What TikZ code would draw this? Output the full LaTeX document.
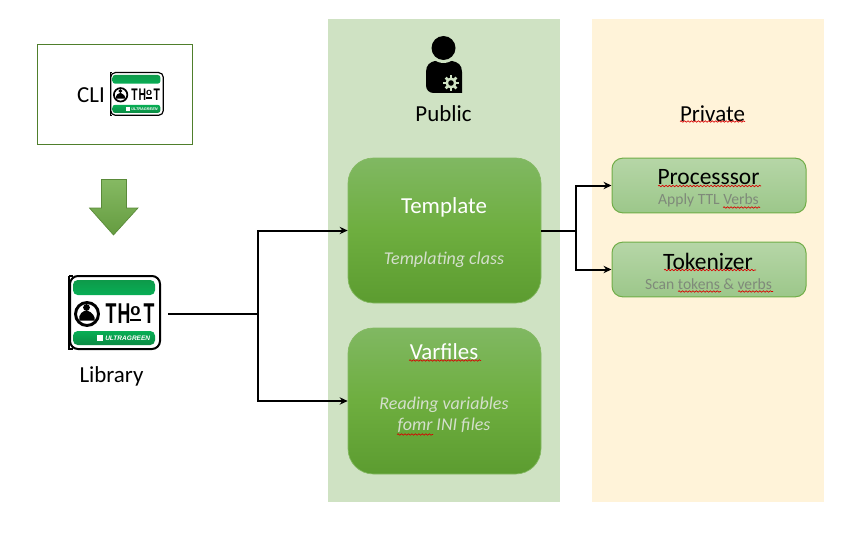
\documentclass[tikz,border=0pt]{standalone}
\usepackage{fontspec}
\setmainfont{Carlito}
\newfontfamily\logofont{Liberation Sans}
\usetikzlibrary{arrows.meta,decorations.pathmorphing,shadings}
\definecolor{pubbg}{HTML}{CFE2C3}
\definecolor{privbg}{HTML}{FFF3D9}
\definecolor{gedge}{HTML}{70AD47}
\definecolor{gtop}{HTML}{80B862}
\definecolor{gmid}{HTML}{6EAE3F}
\definecolor{gbot}{HTML}{5C9C30}
\definecolor{ltop}{HTML}{B6D6A7}
\definecolor{lbot}{HTML}{9CC78A}
\definecolor{lgreen}{HTML}{08AE55}
\definecolor{ltopg}{HTML}{0E9A4A}
\definecolor{dgreen}{HTML}{0B8A43}
\definecolor{cliedge}{HTML}{4F7F2C}
\definecolor{subgrey}{HTML}{7F8A7A}
\definecolor{ital}{HTML}{D4DFCC}
\tikzset{
  x=0.75pt,y=-0.75pt,
  panel/.style={draw=none,inner sep=0pt},
  bigbox/.style={rounded corners=19pt,draw=gedge!85!white,line width=.5pt,top color=gtop,bottom color=gbot,middle color=gmid,minimum width=144.75pt,inner sep=0pt},
  smallbox/.style={rounded corners=8pt,draw=gedge,line width=.75pt,top color=ltop,bottom color=lbot,minimum width=145.5pt,minimum height=41pt,inner sep=0pt},
  conn/.style={draw=black,line width=1.5pt},
  arr/.style={conn,-{Stealth[length=6pt,width=5.5pt]}},
  lbl/.style={inner sep=0pt,font=\fontsize{17.2pt}{20pt}\selectfont},
  titlelbl/.style={inner sep=0pt,font=\fontsize{17.6pt}{20pt}\selectfont},
  whitehead/.style={lbl,text=white},
  ilbl/.style={inner sep=0pt,align=center,text=ital,font=\fontsize{13.5pt}{15.8pt}\selectfont\itshape},
  sublbl/.style={inner sep=0pt,text=subgrey,font=\fontsize{11.7pt}{14pt}\selectfont},
  squig/.style={draw=red!85!black,line width=.5pt,decorate,decoration={snake,amplitude=.55pt,segment length=2.6pt}},
  logoletter/.style={inner sep=0pt,xscale=.62,font=\logofont\bfseries\fontsize{21.5pt}{22pt}\selectfont},
}
% #1 x, #2 y, #3 scale
\newcommand{\thotlogo}[3]{%
\begin{scope}[shift={(#1,#2)},scale=#3,transform shape]
  \pgfmathsetmacro{\lwk}{#3}
  \draw[line width=\lwk*1.5pt,fill=white,rounded corners=6pt*\lwk] (2,1) rectangle (92,74);
  \draw[line width=\lwk*1.2pt] (1,0.5) -- (1,74.5);
  \draw[line width=\lwk*1.2pt] (1,1) -- (5,1) (1,74) -- (5,74);
  \path[rounded corners=3.5pt*\lwk,top color=ltopg,bottom color=lgreen,draw=none] (5,5) rectangle (87,20);
  \path[rounded corners=3.5pt*\lwk,top color=lgreen,bottom color=dgreen,draw=none] (5,56) rectangle (87,70);
  \draw[line width=\lwk*2.2pt,fill=white] (19,39) circle [radius=11.5];
  \fill (18.5,32.5) circle [radius=3.4];
  \fill (11.5,45.5) .. controls (10,39) and (15,35.5) .. (19,35.5) .. controls (24,37) and (28,42) .. (26.5,45.5) -- cycle;
  \node[logoletter] at (43,38.5) {T};
  \node[logoletter] at (56,38.5) {H};
  \node[inner sep=0pt,font=\logofont\bfseries\fontsize{12.5pt}{14pt}\selectfont] at (67.5,36.5) {o};
  \fill (62,43.5) rectangle (73,45.5);
  \node[logoletter] at (81,38.5) {T};
  \fill[white] (29,60) rectangle (35,66);
  \node[inner sep=0pt,anchor=west,text=white,font=\logofont\bfseries\itshape\fontsize{4.9pt}{5pt}\selectfont] at (37,63) {ULTRAGREEN};
\end{scope}}
\begin{document}
\begin{tikzpicture}
\useasboundingbox (0,0) rectangle (860,535);
% panels
\node[panel,fill=pubbg,minimum width=174pt,minimum height=362.25pt] (public) at (444,260.5) {};
\node[panel,fill=privbg,minimum width=174pt,minimum height=362.25pt] (private) at (708,260.5) {};
% CLI box
\node[draw=cliedge,line width=.75pt,fill=white,minimum width=116.5pt,minimum height=75.5pt,inner sep=0pt] (clibox) at (115,94.5) {};
\node[lbl] (clitext) at (91,95) {CLI};
\thotlogo{109.5}{72}{0.585}
% big down arrow
\path[draw=gedge!80!black,line width=.5pt,top color=gedge!85!white,bottom color=gedge!90!black]
  (101.5,179.5) -- (126.5,179.5) -- (126.5,208) -- (138,208) -- (113.5,235) -- (89.5,208) -- (101.5,208) -- cycle;
% library
\thotlogo{68}{275}{1}
\node[lbl] (libtext) at (111.5,376.5) {Library};
\coordinate (libout) at (168,313.5);
\coordinate (jleft) at (257.5,313.5);
% person icon
\fill (426,72) .. controls (426,65) and (430,62) .. (435,61) -- (452,61) .. controls (458,62) and (462,65) .. (462,72) -- (462,93) -- (434,93) .. controls (429,93) and (426,90) .. (426,85) -- cycle;
\fill[pubbg] (443.5,48) circle [radius=15];
\fill (443.5,48) circle [radius=12];
\foreach \a in {0,45,...,315} {\draw[pubbg,line width=2pt] (451,83) -- ++(\a:7.6);}
\fill[pubbg] (451,83) circle [radius=5.6];
\fill (451,83) circle [radius=2.8];
\node[lbl] (pubtext) at (443.5,114) {Public};
\node[lbl] (privtext) at (712.5,114) {Private};
\draw[squig] (680,121.5) -- (745,121.5);
% main boxes
\node[bigbox,minimum height=108.75pt] (tpl) at (444.5,230.5) {};
\node[bigbox,minimum height=109.5pt] (var) at (444.5,401) {};
\node[whitehead] (tpltitle) at (444,207) {Template};
\node[ilbl] (tplsub) at (444,260) {Templating class};
\node[whitehead] (vartitle) at (444,352) {Varfiles};
\draw[squig] (409,360.5) -- (481,360.5);
\node[ilbl] (varsub) at (444,415) {Reading variables\\fomr INI files};
\draw[squig] (397,434.5) -- (433,434.5);
% small boxes
\node[smallbox] (proc) at (709,185.5) {};
\node[smallbox] (tok) at (709,269.5) {};
\node[titlelbl] (proctitle) at (708.5,177.5) {Processsor};
\draw[squig] (658,186) -- (761,186);
\node[sublbl] (procsub) at (708.5,200.5) {Apply TTL Verbs};
\draw[squig] (723,207.5) -- (760,207.5);
\node[titlelbl] (toktitle) at (708,261.5) {Tokenizer};
\draw[squig] (664,270) -- (756,270);
\node[sublbl] (toksub) at (708.5,284.5) {Scan tokens \& verbs};
\draw[squig] (678,291.5) -- (721,291.5);
\draw[squig] (738,291.5) -- (773,291.5);
% connectors
\draw[conn] (libout) -- (jleft);
\draw[arr] (jleft) |- (tpl.west);
\draw[arr] (jleft) |- (var.west);
\coordinate (jright) at (576,230.5);
\draw[conn] (tpl.east) -- (jright);
\draw[arr] (jright) |- (proc.west);
\draw[arr] (jright) |- (tok.west);
\end{tikzpicture}
\end{document}
